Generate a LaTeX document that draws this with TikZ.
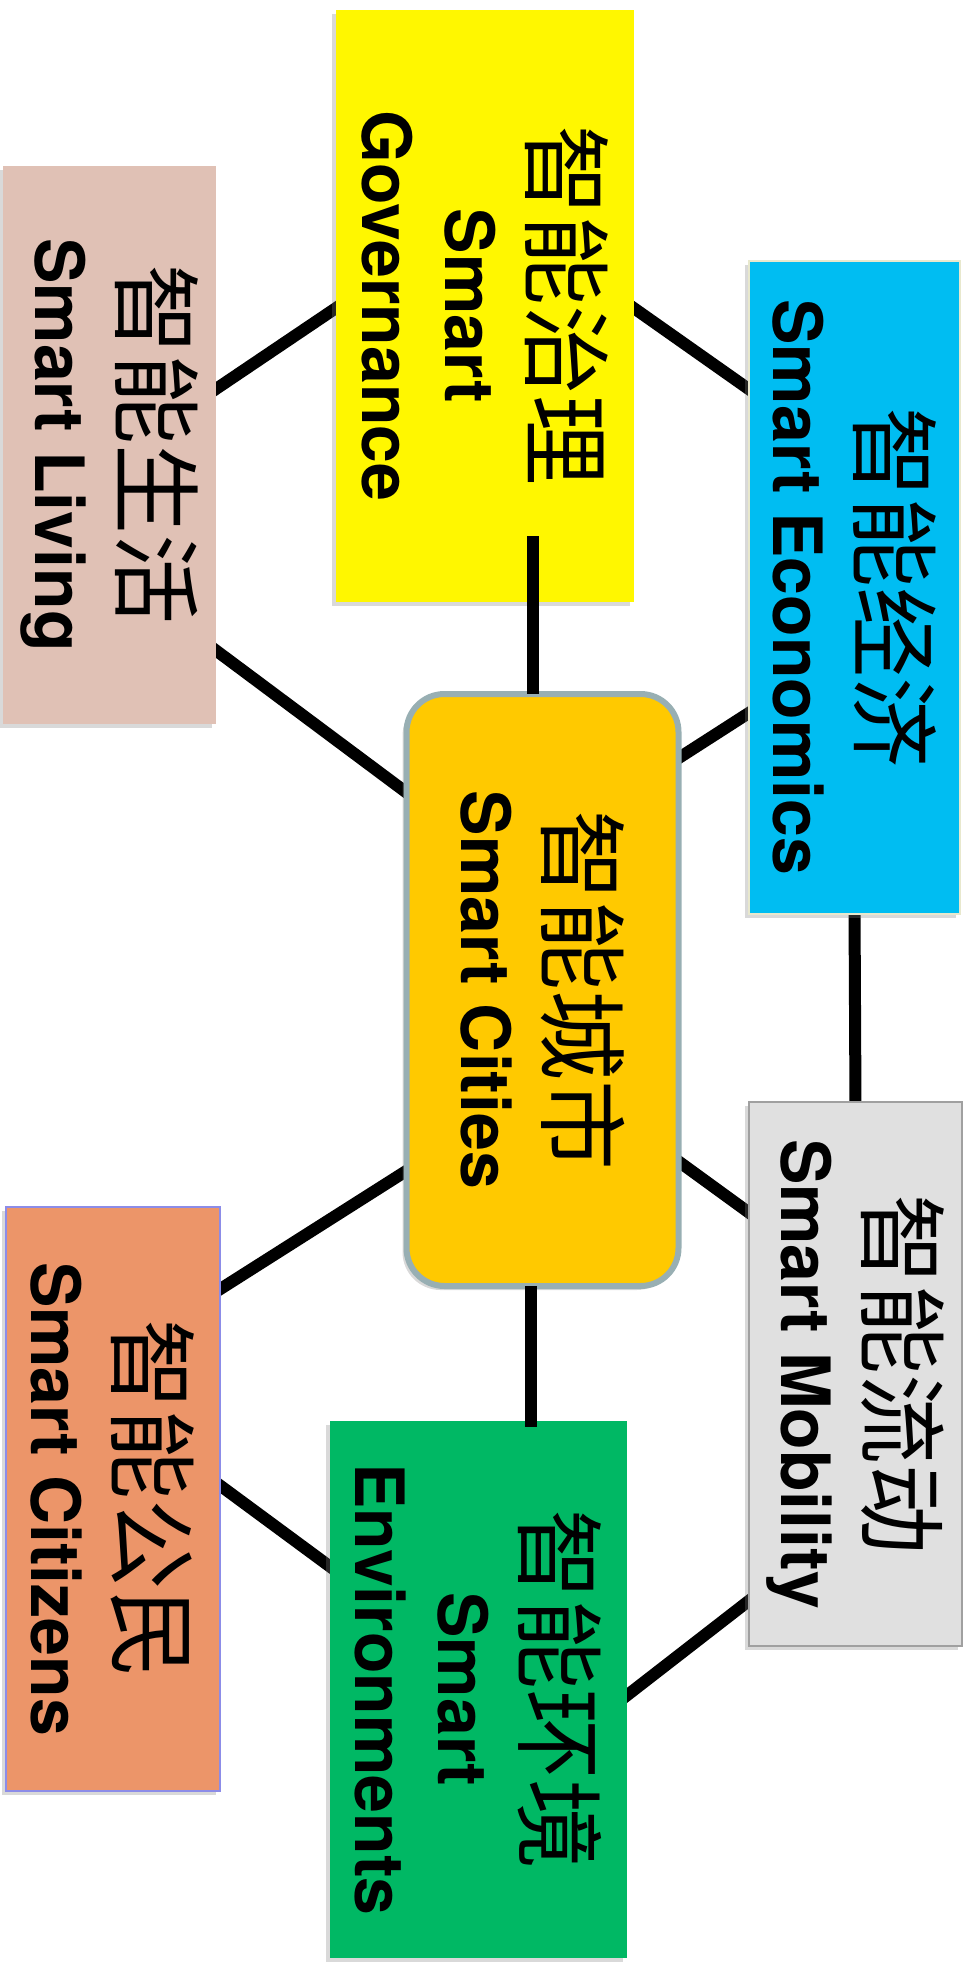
\documentclass[tikz,border=0pt]{standalone}
\usepackage{fontspec}
\setsansfont{TeX Gyre Heros}
\newfontfamily\cjk{Noto Sans CJK SC}
\usetikzlibrary{calc,shadows}
\pgfdeclarelayer{background}
\pgfsetlayers{background,main}
\definecolor{govc}{RGB}{255,247,0}
\definecolor{livc}{RGB}{224,193,181}
\definecolor{ecoc}{RGB}{0,189,242}
\definecolor{ecob}{RGB}{232,232,205}
\definecolor{citc}{RGB}{255,201,0}
\definecolor{citb}{RGB}{152,175,179}
\definecolor{mobc}{RGB}{224,224,224}
\definecolor{mobb}{RGB}{160,160,160}
\definecolor{ctzc}{RGB}{236,149,105}
\definecolor{ctzb}{RGB}{140,140,232}
\definecolor{envc}{RGB}{0,184,100}
\tikzset{
  box/.style={rectangle, inner sep=0pt, outer sep=0pt,
    drop shadow={shadow xshift=-2pt, shadow yshift=-2pt, opacity=0.3}},
  txt/.style={rotate=-90, align=center, inner sep=0pt,
    font=\sffamily\bfseries\fontsize{34}{41.5}\selectfont},
  link/.style={line width=6pt, black},
}
\newcommand{\zh}[1]{{\cjk\mdseries\fontsize{45}{48}\selectfont #1}}
\begin{document}
\begin{tikzpicture}[x=0.5pt,y=-0.5pt]
\useasboundingbox (0,0) rectangle (970,1968);
% boxes
\node[box, fill=govc, minimum width=149pt, minimum height=296pt] (gov) at (485,306) {};
\node[box, fill=livc, minimum width=106.5pt, minimum height=279pt] (liv) at (109.5,445) {};
\node[box, fill=ecoc, draw=ecob, line width=0.6pt, minimum width=105.5pt, minimum height=326.5pt] (eco) at (854.5,587.5) {};
\node[box, fill=citc, draw=citb, line width=3pt, rounded corners=19pt, minimum width=136pt, minimum height=296pt] (cit) at (542.5,990) {};
\node[box, fill=mobc, draw=mobb, line width=0.8pt, minimum width=106.5pt, minimum height=272pt] (mob) at (855.5,1374) {};
\node[box, fill=ctzc, draw=ctzb, line width=0.8pt, minimum width=107pt, minimum height=292pt] (ctz) at (113,1499) {};
\node[box, fill=envc, minimum width=148.5pt, minimum height=268.5pt] (env) at (478.5,1689.5) {};
% texts
\node[txt] (govt) at (gov) {\zh{智能治理}\\[2pt] Smart\\ Governance};
\node[txt] (livt) at (liv) {\zh{智能生活}\\[2pt] Smart Living};
\node[txt] (ecot) at (eco) {\zh{智能经济}\\[2pt] Smart Economics};
\node[txt] (citt) at (cit) {\zh{智能城市}\\[2pt] Smart Cities};
\node[txt] (mobt) at (mob) {\zh{智能流动}\\[2pt] Smart Mobility};
\node[txt] (ctzt) at (ctz) {\zh{智能公民}\\[2pt] Smart Citizens};
\node[txt] (envt) at (env) {\zh{智能环境}\\[2pt] Smart\\ Environments};
% connectors behind boxes
\begin{pgfonlayer}{background}
\draw[link] ($(liv.east)+(-6,-52)$) -- ($(gov.west)+(6,-2)$);
\draw[link] ($(gov.east)+(-6,-2)$) -- ($(eco.west)+(6,-194)$);
\draw[link] ($(liv.east)+(-6,201)$) -- ($(cit.west)+(6,-193)$);
\draw[link] ($(cit.east)+(-6,-228)$) -- ($(eco.west)+(6,121.5)$);
\draw[link] ($(eco.south)+(0,-6)$) -- ($(mob.north)+(0,6)$);
\draw[link] ($(cit.west)+(6,177)$) -- ($(ctz.east)+(-6,-206)$);
\draw[link] ($(cit.east)+(-6,167)$) -- ($(mob.west)+(6,-157)$);
\draw[link] ($(ctz.east)+(-6,-18)$) -- ($(env.west)+(6,-118.5)$);
\draw[link] ($(mob.west)+(6,222)$) -- ($(env.east)+(-6,10.5)$);
\end{pgfonlayer}
% vertical connectors drawn on top
\coordinate (gc) at ($(gov.south)+(48,-66)$);
\draw[link] (gc) -- (gc |- cit.north);
\coordinate (ce) at ($(cit.south)+(-12,0)$);
\draw[link] (ce) -- ($(ce |- env.north)+(0,6)$);
\end{tikzpicture}
\end{document}
